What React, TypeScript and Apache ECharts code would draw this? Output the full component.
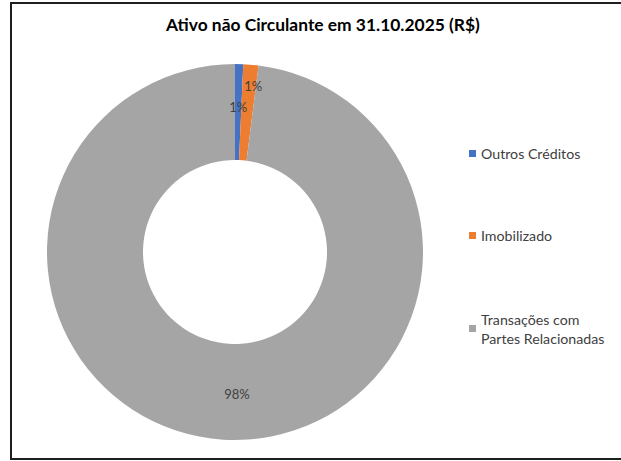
import React, { useEffect, useRef } from "react";
import * as echarts from "echarts";

const titleText = "Ativo não Circulante em 31.10.2025 (R$)";
const categories = ["Outros Créditos", "Imobilizado", "Transações com\nPartes Relacionadas"];
const values = [0.7, 1.3, 98.0];
const colors = ["#4472C4", "#ED7D31", "#A5A5A5"];
const labelOffsets = [[0, -2], [6, -24], [11, -1]];

const FONT = "Lato, 'Open Sans', sans-serif";

export default function App() {
  const ref = useRef<HTMLDivElement>(null);
  useEffect(() => {
    if (!ref.current) return;
    const chart = echarts.init(ref.current, undefined, { renderer: "svg" });
    const legendTops = [144, 226, 300];
    const option: any = {
      animation: false,
      backgroundColor: "#ffffff",
      title: {
        text: titleText,
        left: 166,
        top: 16,
        padding: 0,
        textStyle: { fontFamily: FONT, fontSize: 17.4, fontWeight: "bold", color: "#000000" },
      },
      legend: categories.map((c, i) => ({
        orient: "vertical",
        left: 469,
        top: legendTops[i],
        padding: 0,
        icon: "rect",
        itemWidth: 7,
        itemHeight: 7,
        selectedMode: false,
        data: [
          i === 2
            ? { name: c, textStyle: { padding: [19, 0, 0, 0] } }
            : { name: c },
        ],
        textStyle: { fontFamily: FONT, fontSize: 14.2, color: "#404040", lineHeight: 19 },
      })),
      graphic: [
        {
          type: "rect",
          shape: { x: 11, y: 3, width: 640, height: 456 },
          style: { fill: "none", stroke: "#1f1f1f", lineWidth: 2 },
          silent: true,
        },
      ],
      series: [
        {
          type: "pie",
          center: [235, 252],
          radius: [92, 188],
          startAngle: 90,
          clockwise: true,
          avoidLabelOverlap: false,
          label: {
            show: true,
            position: "inside",
            fontFamily: FONT,
            fontSize: 13,
            color: "#404040",
            formatter: (p: any) => `${Math.round(p.percent)}%`,
          },
          labelLine: { show: false },
          emphasis: { disabled: true },
          itemStyle: { borderWidth: 0 },
          data: categories.map((c, i) => ({
            name: c,
            value: values[i],
            itemStyle: { color: colors[i] },
            label: { offset: labelOffsets[i] },
          })),
        },
      ],
    };
    chart.setOption(option);
    return () => chart.dispose();
  }, []);
  return (
    <div
      ref={ref}
      style={{ position: "fixed", left: 0, top: 0, width: 621, height: 461 }}
    />
  );
}
